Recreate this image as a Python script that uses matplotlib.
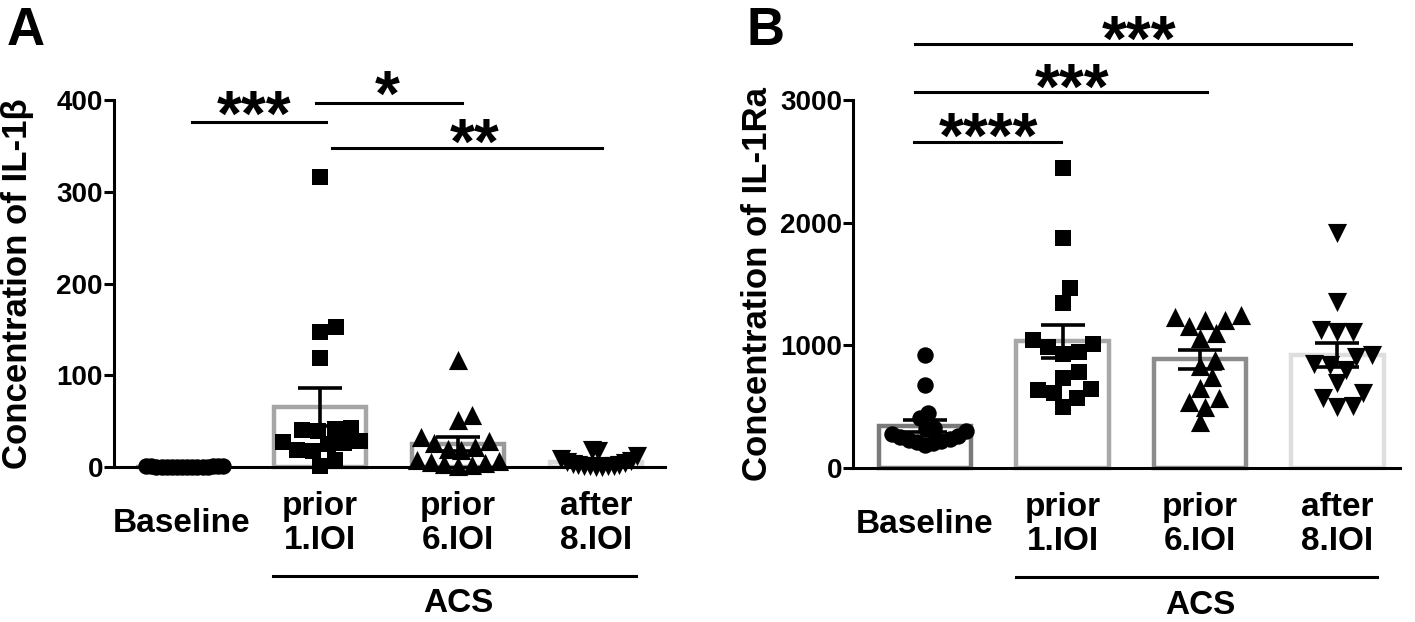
import numpy as np
import matplotlib
matplotlib.use("Agg")
from matplotlib import pyplot as plt
from matplotlib import transforms

plt.rcParams['font.family'] = ['Liberation Sans', 'DejaVu Sans']
plt.rcParams['font.weight'] = 'bold'

groups = ["Baseline", "prior\n1.IOI", "prior\n6.IOI", "after\n8.IOI"]
group_label = "ACS"

# IL-1beta
il1b_baseline = [0.2, 0.5, 0.3, 0.8, 0.1, 0.6, 0.4, 0.2, 0.7, 0.3, 0.5, 0.9, 0.2, 0.4, 0.6, 0.3]
il1b_prior1 = [316, 153, 147, 119, 43, 41, 40, 39, 28, 27, 26, 25, 18, 17, 8, 1]
il1b_prior6 = [117, 57, 51, 33, 28, 26, 22, 20, 18, 8, 6, 5, 4, 3, 2, 1]
il1b_after8 = [18, 17, 12, 9, 7, 5, 4, 3, 2, 2, 1, 1, 1, 1, 0.5, 0.5]

# IL-1Ra
il1ra_baseline = [920, 680, 450, 410, 330, 320, 300, 280, 260, 250, 240, 230, 220, 210, 200, 190]
il1ra_prior1 = [2445, 1875, 1465, 1345, 1045, 1010, 985, 945, 930, 780, 735, 640, 635, 610, 570, 500]
il1ra_prior6 = [1250, 1230, 1210, 1205, 1160, 1100, 1060, 880, 830, 740, 650, 570, 540, 500, 375]
il1ra_after8 = [1915, 1355, 1125, 1110, 1105, 920, 905, 850, 840, 800, 690, 610, 570, 505, 500]

markers = ["o", "s", "^", "v"]
msize = {"o": 140, "s": 135, "^": 190, "v": 190}


def swarm(ax, x0, vals, dmin, max_half):
    # simple beeswarm in pixel space, then squeeze to max_half
    pts = ax.transData.transform(np.column_stack([np.full(len(vals), x0), vals]))
    ys = pts[:, 1]
    order = np.argsort(ys, kind="stable")
    placed = []
    offs = np.zeros(len(vals))
    for i in order:
        y = ys[i]
        k = 0
        while True:
            cands = [0] if k == 0 else [k, -k]
            done = False
            for c in cands:
                if all((c - ox) ** 2 + (y - oy) ** 2 >= dmin ** 2 for ox, oy in placed):
                    offs[i] = c
                    placed.append((c, y))
                    done = True
                    break
            if done:
                break
            k += 1
    m = np.abs(offs).max()
    if m > max_half:
        offs = offs * max_half / m
    ppu = ax.transData.transform((1, 0))[0] - ax.transData.transform((0, 0))[0]
    return x0 + offs / ppu


def panel(ax, data, edgecolors, ymax, yticks, ylabel, xlim, sigs):
    ax.set_xlim(*xlim)
    ax.set_ylim(0, ymax)
    means = [np.mean(v) for v in data]
    sems = [np.std(v, ddof=1) / np.sqrt(len(v)) for v in data]
    ax.bar(range(4), means, width=0.67, color="white", edgecolor=edgecolors,
           linewidth=3.2, zorder=1, clip_on=False)
    for i, v in enumerate(data):
        xs = swarm(ax, i, v, 16, 41)
        ax.scatter(xs, v, marker=markers[i], s=msize[markers[i]], c="black",
                   linewidths=0, zorder=3, clip_on=False)
    ax.errorbar(range(4), means, yerr=sems, fmt="none", ecolor="black",
                elinewidth=2.6, capsize=16, capthick=2.6, zorder=5, clip_on=False)

    for s in ["top", "right"]:
        ax.spines[s].set_visible(False)
    ax.spines["left"].set_linewidth(2.2)
    ax.spines["bottom"].set_linewidth(2.2)
    ax.set_yticks(yticks)
    ax.tick_params(axis="y", length=7, width=2.2, labelsize=20, pad=1)
    ax.tick_params(axis="x", length=0, labelbottom=False)
    ax.set_ylabel(ylabel, fontsize=25, fontweight="bold")
    ax.yaxis.set_label_coords(-0.145, 0.5)

    trans = transforms.blended_transform_factory(ax.transData, ax.transAxes)
    for i, g in enumerate(groups):
        ax.text(i, -0.153, g, transform=trans, ha="center", va="center",
                fontsize=24, linespacing=1.12)
    ax.plot([0.66, 3.29], [-0.297, -0.297], transform=trans, color="black",
            lw=2.2, clip_on=False)
    ax.text(2.0, -0.373, group_label, transform=trans, ha="center", va="center",
            fontsize=24)

    for x1, x2, ly, txt, tx, ty in sigs:
        ax.plot([x1, x2], [ly, ly], color="black", lw=2.2, clip_on=False)
        ax.annotate(txt, xy=(tx, ty), xytext=(0, -0.56 * 46), textcoords="offset points",
                    ha="center", va="baseline", fontsize=46, annotation_clip=False)


fig = plt.figure(figsize=(14.15, 6.22), dpi=100)
axA = fig.add_axes([114 / 1415, 1 - 467 / 622, 551 / 1415, 367 / 622])
axB = fig.add_axes([853 / 1415, 1 - 468 / 622, 547 / 1415, 368 / 622])

panel(axA, [il1b_baseline, il1b_prior1, il1b_prior6, il1b_after8],
      ["#a0a0a0", "#a6a6a6", "#9a9a9a", "#dadada"], 400, [0, 100, 200, 300, 400],
      "Concentration of IL-1β", (-0.493, 3.5),
      [(0.07, 1.04, 376, "***", 0.52, 400),
       (0.97, 2.03, 397, "*", 1.49, 422),
       (1.09, 3.04, 348, "**", 2.12, 369)])

panel(axB, [il1ra_baseline, il1ra_prior1, il1ra_prior6, il1ra_after8],
      ["#7a7a7a", "#a8a8a8", "#8c8c8c", "#dedede"], 3000, [0, 1000, 2000, 3000],
      "Concentration of IL-1Ra", (-0.524, 3.455),
      [(-0.07, 3.1, 3456, "***", 1.56, 3611),
       (-0.07, 2.05, 3065, "***", 1.07, 3220),
       (-0.08, 0.99, 2658, "****", 0.46, 2820)])

fig.text(7 / 1415, 1 - 45 / 622, "A", fontsize=38, fontweight="bold", va="baseline")
fig.text(746 / 1415, 1 - 45 / 622, "B", fontsize=38, fontweight="bold", va="baseline")

fig.savefig("out.png", dpi=100)
